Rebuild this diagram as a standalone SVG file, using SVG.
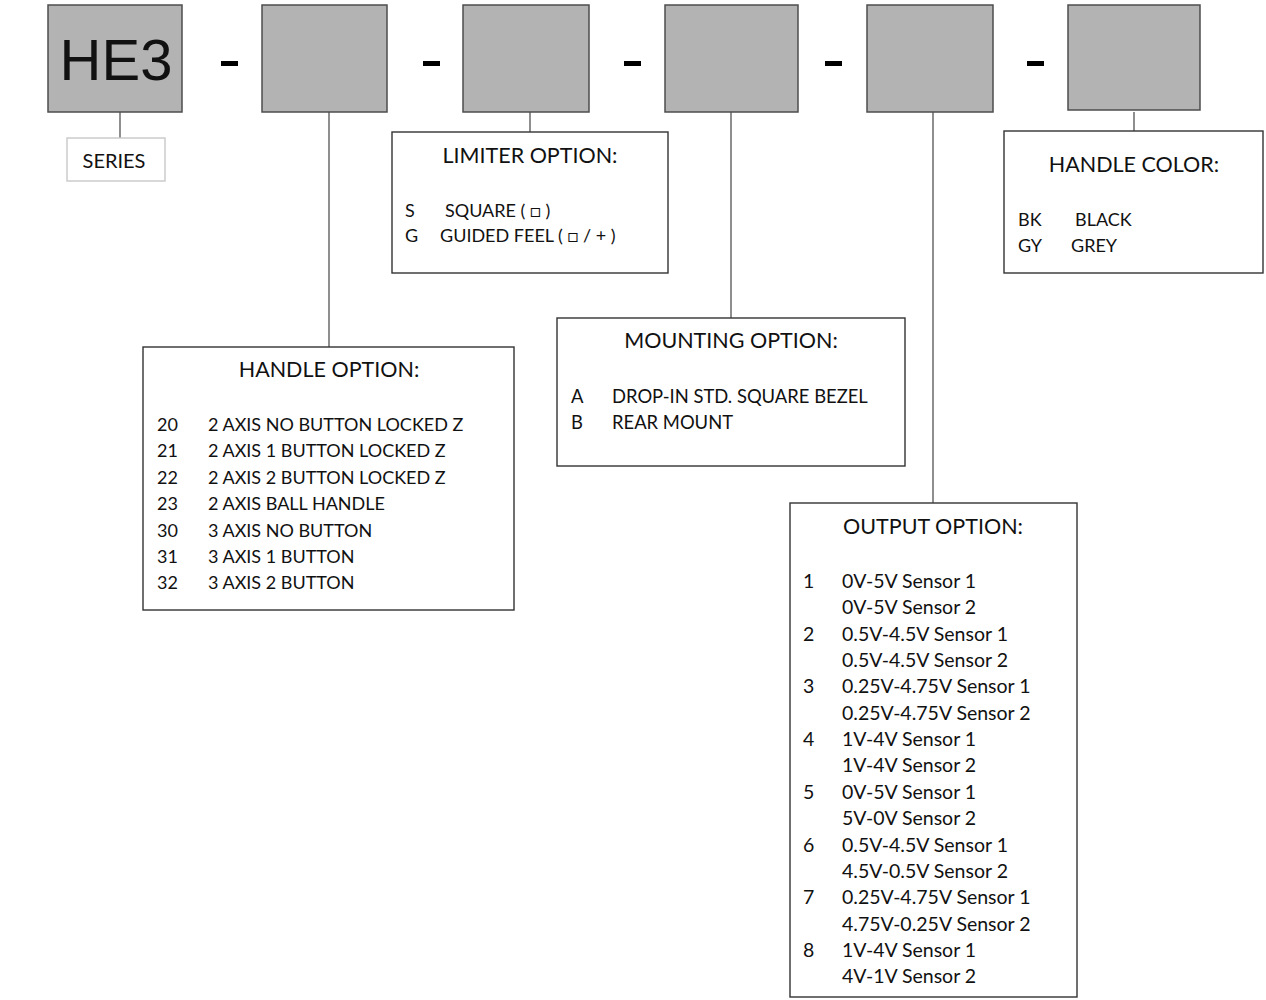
<svg xmlns="http://www.w3.org/2000/svg" width="1266" height="1000" viewBox="0 0 1266 1000">
<style>
.code{fill:#b3b3b3;stroke:#4d4d4d;stroke-width:1.5}
.box{fill:#fff;stroke:#333;stroke-width:1.4}
.lbl{fill:#fff;stroke:#c8c8c8;stroke-width:1.4}
.conn{stroke:#444;stroke-width:1.2;fill:none}
.dash{fill:#000}
text{font-family:Lato,"Liberation Sans",sans-serif;fill:#111}
.t{font-size:21.5px;text-anchor:middle}
.i{font-size:18px}
.o{font-size:19.5px}
</style>
<rect width="1266" height="1000" fill="#fff"/>
<g id="connectors">
<line class="conn" x1="120" y1="112" x2="120" y2="138"/>
<line class="conn" x1="329" y1="112" x2="329" y2="347"/>
<line class="conn" x1="530" y1="112" x2="530" y2="132"/>
<line class="conn" x1="731" y1="112" x2="731" y2="318"/>
<line class="conn" x1="933" y1="112" x2="933" y2="503"/>
<line class="conn" x1="1134" y1="112" x2="1134" y2="131"/>
</g>
<g id="dashes">
<rect class="dash" x="221" y="61" width="17" height="5"/>
<rect class="dash" x="423" y="61" width="17" height="5"/>
<rect class="dash" x="624" y="61" width="17" height="5"/>
<rect class="dash" x="825" y="61" width="17" height="5"/>
<rect class="dash" x="1027" y="61" width="17" height="5"/>
</g>
<g id="code-he3">
<rect class="code" x="48" y="5" width="134" height="107"/>
<text x="116" y="80" style="font-family:'Liberation Sans',Arial,sans-serif;font-size:58px;text-anchor:middle">HE3</text>
</g>
<g id="code-2"><rect class="code" x="262" y="5" width="125" height="107"/></g>
<g id="code-3"><rect class="code" x="463" y="5" width="126" height="107"/></g>
<g id="code-4"><rect class="code" x="665" y="5" width="133" height="107"/></g>
<g id="code-5"><rect class="code" x="867" y="5" width="126" height="107"/></g>
<g id="code-6"><rect class="code" x="1068" y="5" width="132" height="105"/></g>
<g id="series">
<rect class="lbl" x="67" y="138" width="98" height="43"/>
<text class="t" x="114" y="168" style="font-size:20px">SERIES</text>
</g>
<g id="limiter">
<rect class="box" x="392" y="132" width="276" height="141"/>
<text class="t" x="530" y="163">LIMITER OPTION:</text>
<text class="i" x="405" y="217">S</text><text class="i" x="445" y="217">SQUARE ( □ )</text>
<text class="i" x="405" y="242">G</text><text class="i" x="440" y="242">GUIDED FEEL ( □ / + )</text>
</g>
<g id="handle-color">
<rect class="box" x="1004" y="131" width="259" height="142"/>
<text class="t" x="1134" y="172">HANDLE COLOR:</text>
<text class="i" x="1018" y="226">BK</text><text class="i" x="1075" y="226">BLACK</text>
<text class="i" x="1018" y="252">GY</text><text class="i" x="1071" y="252">GREY</text>
</g>
<g id="handle-option">
<rect class="box" x="143" y="347" width="371" height="263"/>
<text class="t" x="329" y="377">HANDLE OPTION:</text>
<text class="i" x="157" y="431">20</text><text class="i" x="208" y="431">2 AXIS NO BUTTON LOCKED Z</text>
<text class="i" x="157" y="457">21</text><text class="i" x="208" y="457">2 AXIS 1 BUTTON LOCKED Z</text>
<text class="i" x="157" y="484">22</text><text class="i" x="208" y="484">2 AXIS 2 BUTTON LOCKED Z</text>
<text class="i" x="157" y="510">23</text><text class="i" x="208" y="510">2 AXIS BALL HANDLE</text>
<text class="i" x="157" y="537">30</text><text class="i" x="208" y="537">3 AXIS NO BUTTON</text>
<text class="i" x="157" y="563">31</text><text class="i" x="208" y="563">3 AXIS 1 BUTTON</text>
<text class="i" x="157" y="589">32</text><text class="i" x="208" y="589">3 AXIS 2 BUTTON</text>
</g>
<g id="mounting">
<rect class="box" x="557" y="318" width="348" height="148"/>
<text class="t" x="731" y="348">MOUNTING OPTION:</text>
<text class="i" x="571" y="403" style="font-size:18.4px">A</text><text class="i" x="612" y="403" style="font-size:18.4px">DROP-IN STD. SQUARE BEZEL</text>
<text class="i" x="571" y="429" style="font-size:18.4px">B</text><text class="i" x="612" y="429" style="font-size:18.4px">REAR MOUNT</text>
</g>
<g id="output">
<rect class="box" x="790" y="503" width="287" height="494"/>
<text class="t" x="933" y="534">OUTPUT OPTION:</text>
<text class="o" x="803" y="588">1</text><text class="o" x="842" y="588">0V-5V Sensor 1</text>
<text class="o" x="842" y="614">0V-5V Sensor 2</text>
<text class="o" x="803" y="641">2</text><text class="o" x="842" y="641">0.5V-4.5V Sensor 1</text>
<text class="o" x="842" y="667">0.5V-4.5V Sensor 2</text>
<text class="o" x="803" y="693">3</text><text class="o" x="842" y="693">0.25V-4.75V Sensor 1</text>
<text class="o" x="842" y="720">0.25V-4.75V Sensor 2</text>
<text class="o" x="803" y="746">4</text><text class="o" x="842" y="746">1V-4V Sensor 1</text>
<text class="o" x="842" y="772">1V-4V Sensor 2</text>
<text class="o" x="803" y="799">5</text><text class="o" x="842" y="799">0V-5V Sensor 1</text>
<text class="o" x="842" y="825">5V-0V Sensor 2</text>
<text class="o" x="803" y="852">6</text><text class="o" x="842" y="852">0.5V-4.5V Sensor 1</text>
<text class="o" x="842" y="878">4.5V-0.5V Sensor 2</text>
<text class="o" x="803" y="904">7</text><text class="o" x="842" y="904">0.25V-4.75V Sensor 1</text>
<text class="o" x="842" y="931">4.75V-0.25V Sensor 2</text>
<text class="o" x="803" y="957">8</text><text class="o" x="842" y="957">1V-4V Sensor 1</text>
<text class="o" x="842" y="983">4V-1V Sensor 2</text>
</g>
</svg>
